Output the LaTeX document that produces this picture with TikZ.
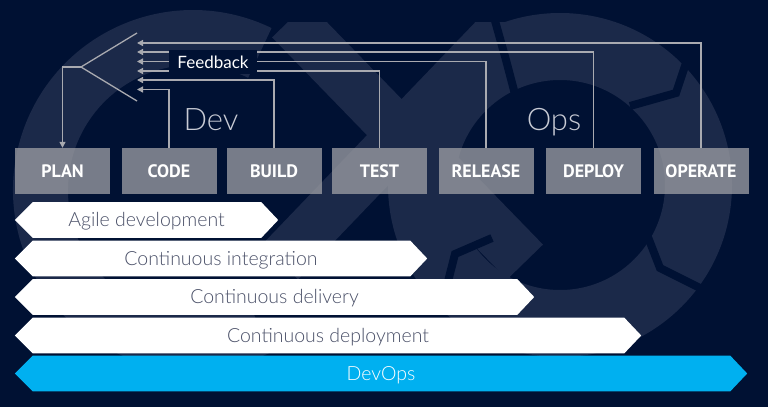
\documentclass[tikz,border=0pt]{standalone}
\usepackage{fontspec}
\setmainfont{Lato}
\newfontfamily\lightfont{Lato Light}
\newfontfamily\boxfont{PT Sans}
\usetikzlibrary{arrows.meta}
\definecolor{bg}{HTML}{001133}
\definecolor{deco}{HTML}{1B2949}
\definecolor{boxgray}{HTML}{A0A1A6}
\definecolor{fbline}{HTML}{A9AAB0}
\definecolor{bantext}{HTML}{4A5068}
\definecolor{devops}{HTML}{00B0F0}
\definecolor{devtext}{HTML}{C8CBD5}
\newcommand{\mkbanner}[2]{%
  \fill[#2] (#1.west) -- ([xshift=18]#1.north west) -- ([xshift=-17]#1.north east) -- (#1.east) -- ([xshift=-17]#1.south east) -- ([xshift=18]#1.south west) -- cycle;}
\begin{document}
\begin{tikzpicture}[x=1pt,y=-1pt,
  stage/.style={fill=boxgray, fill opacity=0.75, text opacity=1, minimum width=95, minimum height=46, inner sep=0, text=white, font=\boxfont\bfseries\fontsize{18}{18}\selectfont},
  fb/.style={draw=fbline, line width=1.3},
  fbarrow/.style={fb, -{Triangle[width=6pt,length=6pt]}},
  bannerbox/.style={minimum height=35.5, inner sep=0},
  bantxt/.style={anchor=base, text=bantext, font=\lightfont\fontsize{19.5}{19.5}\selectfont},
  bigtxt/.style={anchor=base, text=devtext, font=\lightfont\fontsize{31}{31}\selectfont},
  slot/.style={draw=bg, line width=8, line join=miter}]
\fill[bg] (0,0) rectangle (768,407);
\useasboundingbox (0,0) rectangle (768,407);
% background decoration
\begin{scope}
\clip (0,0) rectangle (768,407);
\draw[deco, line width=55] ([shift={(64:152.5)}]193,190) arc[start angle=64, end angle=296, radius=152.5];
\draw[deco, line width=67] (560,185) circle (138.5);
\begin{scope}
\clip (250,22) rectangle (545,290);
\draw[deco, line width=50] (290,20) -- (525,262);
\draw[deco, line width=50] (512,20) -- (280,262);
\end{scope}
\draw[slot] (492,10) -- (506,60) -- (516,98);
\draw[slot] (692,45) -- (676,93) -- (630,106);
\draw[slot] (646,232) -- (660,268) -- (708,292);
\draw[slot] (492,238) -- (455,254) -- (442,305);
\end{scope}
% stages
\node[stage] (plan) at (62.5,171) {PLAN};
\node[stage] (code) at (169,171) {CODE};
\node[stage] (build) at (274,171) {BUILD};
\node[stage] (test) at (379.5,171) {TEST};
\node[stage] (release) at (486,171) {RELEASE};
\node[stage] (deploy) at (593.5,171) {DEPLOY};
\node[stage] (operate) at (701,171) {OPERATE};
% feedback
\coordinate (f1) at (137,43);
\coordinate (f2) at (137,52);
\coordinate (f3) at (137,61.5);
\coordinate (f4) at (137,71);
\coordinate (f5) at (137,80);
\coordinate (f6) at (137,89.5);
\coordinate (ftop) at (137,33);
\coordinate (fmid) at (81,67);
\coordinate (fbot) at (137,101);
\draw[fbarrow] (operate.north) |- (f1);
\draw[fbarrow] (deploy.north) |- (f2);
\draw[fbarrow] (release.north) |- (f3);
\draw[fbarrow] (test.north) |- (f4);
\draw[fbarrow] (build.north) |- (f5);
\draw[fbarrow] (code.north) |- (f6);
\draw[fb] (ftop) -- (fmid) -- (fbot);
\draw[fbarrow] (fmid) -| (plan.north);
\node[fill=bg, text=white, minimum width=88, minimum height=24, inner sep=0, font=\fontsize{17}{17}\selectfont] (feedback) at (213,62) {Feedback};
\node[bigtxt] (dev) at (211,130) {Dev};
\node[bigtxt] (ops) at (554,130) {Ops};
% banners
\node[bannerbox, minimum width=263] (agile) at (146.5,220) {};
\mkbanner{agile}{white}
\node[bantxt] at ([yshift=-6.5]agile.center) {Agile development};
\node[bannerbox, minimum width=412] (ci) at (221,258.5) {};
\mkbanner{ci}{white}
\node[bantxt] at ([yshift=-6.5]ci.center) {Continuous integration};
\node[bannerbox, minimum width=519] (cd) at (274.5,297) {};
\mkbanner{cd}{white}
\node[bantxt] at ([yshift=-6.5]cd.center) {Continuous delivery};
\node[bannerbox, minimum width=626] (cdep) at (328,335.5) {};
\mkbanner{cdep}{white}
\node[bantxt] at ([yshift=-6.5]cdep.center) {Continuous deployment};
\node[bannerbox, minimum width=732] (dops) at (381,373.5) {};
\mkbanner{dops}{devops}
\node[bantxt, text=white] at ([yshift=-6.5]dops.center) {DevOps};
\end{tikzpicture}
\end{document}
